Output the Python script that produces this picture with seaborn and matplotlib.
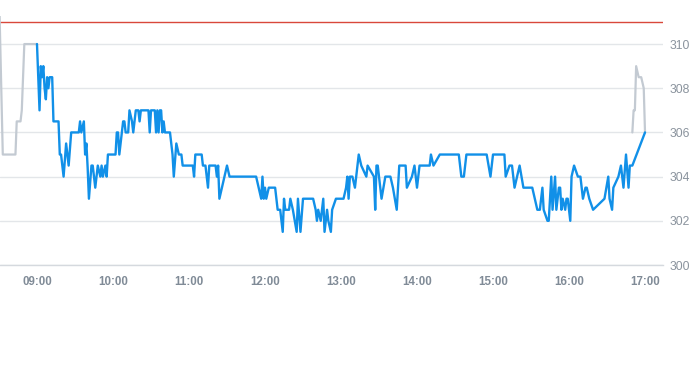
import matplotlib
matplotlib.use("Agg")
import matplotlib.pyplot as plt
import matplotlib.dates as mdates
import seaborn as sns
import pandas as pd

DAY = "2024-01-02 "

blue_times = ["09:00", "09:02", "09:03", "09:04", "09:05", "09:06", "09:07", "09:08", "09:09", "09:10",
              "09:12", "09:13", "09:17", "09:18", "09:19", "09:21", "09:23", "09:25", "09:27", "09:33",
              "09:34", "09:35", "09:37", "09:38", "09:39", "09:40", "09:41", "09:43", "09:44", "09:46",
              "09:48", "09:50", "09:51", "09:52", "09:54", "09:55", "09:56", "10:02", "10:03", "10:04",
              "10:05", "10:08", "10:09", "10:10", "10:12", "10:13", "10:15", "10:16", "10:18", "10:20",
              "10:21", "10:22", "10:28", "10:29", "10:30", "10:33", "10:34", "10:35", "10:36", "10:37",
              "10:38", "10:39", "10:40", "10:41", "10:45", "10:47", "10:48", "10:50", "10:52", "10:54",
              "10:55", "11:03", "11:04", "11:05", "11:10", "11:11", "11:13", "11:15", "11:16", "11:21",
              "11:22", "11:23", "11:24", "11:30", "11:32", "11:53", "11:57", "11:58", "11:59", "12:00",
              "12:01", "12:03", "12:08", "12:10", "12:12", "12:14", "12:15", "12:16", "12:19", "12:20",
              "12:22", "12:25", "12:26", "12:28", "12:30", "12:38", "12:40", "12:41", "12:42", "12:44",
              "12:46", "12:47", "12:49", "12:50", "12:52", "12:53", "12:56", "13:02", "13:04", "13:05",
              "13:06", "13:07", "13:09", "13:11", "13:14", "13:16", "13:20", "13:21", "13:24", "13:26",
              "13:27", "13:28", "13:29", "13:32", "13:35", "13:39", "13:41", "13:44", "13:46", "13:51",
              "13:52", "13:56", "13:58", "14:00", "14:02", "14:10", "14:11", "14:13", "14:18", "14:33",
              "14:35", "14:37", "14:39", "14:55", "14:58", "15:00", "15:09", "15:10", "15:13", "15:15",
              "15:17", "15:21", "15:24", "15:31", "15:33", "15:35", "15:37", "15:39", "15:40", "15:43",
              "15:44", "15:46", "15:47", "15:49", "15:50", "15:52", "15:53", "15:54", "15:55", "15:57",
              "15:58", "15:59", "16:01", "16:02", "16:04", "16:07", "16:09", "16:10", "16:11", "16:13",
              "16:14", "16:16", "16:19", "16:28", "16:31", "16:32", "16:34", "16:35", "16:39", "16:41",
              "16:43", "16:45", "16:47", "16:48", "16:50", "17:00"]
blue_values = [310, 307, 309, 308.5, 309, 308, 307.5, 308.5, 308, 308.5,
               308.5, 306.5, 306.5, 305, 305, 304, 305.5, 304.5, 306, 306,
               306.5, 306, 306.5, 305, 305.5, 304.4, 303, 304.5, 304.5, 303.5,
               304.5, 304, 304.5, 304, 304.5, 304, 305, 305, 306, 306,
               305, 306.5, 306.5, 306, 306, 307, 306.5, 306, 307, 307,
               306.5, 307, 307, 306, 307, 307, 306, 307, 306, 307,
               307, 306, 306.5, 306, 306, 305, 304, 305.5, 305, 305,
               304.5, 304.5, 304, 305, 305, 304.5, 304.5, 303.5, 304.5, 304.5,
               304, 304.5, 303, 304.5, 304, 304, 303, 304, 303, 303.5,
               303, 303.5, 303.5, 302.5, 302.5, 301.5, 303, 302.5, 302.5, 303,
               302.5, 301.5, 303, 301.5, 303, 303, 302.5, 302, 302.5, 302,
               303, 301.5, 302.5, 302, 301.5, 302.5, 303, 303, 303.5, 304,
               303, 304, 304, 303.5, 305, 304.5, 304, 304.5, 304.2, 304,
               302.5, 304.5, 304.5, 303, 304, 304, 303.5, 302.5, 304.5, 304.5,
               303.5, 304, 304.5, 303.5, 304.5, 304.5, 305, 304.5, 305, 305,
               304, 304, 305, 305, 304, 305, 305, 304, 304.5, 304.5,
               303.5, 304.5, 303.5, 303.5, 303, 302.5, 302.5, 303.5, 302.5, 302,
               302, 304, 302.5, 304, 302.5, 303.5, 303.5, 302.5, 303, 302.5,
               303, 303, 302, 304, 304.5, 304, 304, 303.5, 303, 303.5,
               303.5, 303, 302.5, 303, 304, 303, 302.5, 303.5, 304, 304.5,
               303.5, 305, 303.5, 304.5, 304.5, 306]

pre_times = ["08:30", "08:33", "08:43", "08:44", "08:47", "08:48", "08:50", "09:00"]
pre_values = [312.5, 305, 305, 306.5, 306.5, 307, 310, 310]

post_times = ["16:50", "16:51", "16:52", "16:53", "16:55", "16:57", "16:59", "17:00"]
post_values = [306, 307, 307, 309, 308.5, 308.5, 308, 306]

ref_level = 311
y_ticks = [300, 302, 304, 306, 308, 310]
x_tick_labels = ["09:00", "10:00", "11:00", "12:00", "13:00", "14:00", "15:00", "16:00", "17:00"]

def frame(times, values, name):
    return pd.DataFrame({"time": pd.to_datetime([DAY + t for t in times]),
                         "price": values, "seg": name})

df_blue = frame(blue_times, blue_values, "main")
df_pre = frame(pre_times, pre_values, "pre")
df_post = frame(post_times, post_values, "post")

sns.set_style("white")
plt.rcParams["font.family"] = ["Liberation Sans", "DejaVu Sans"]

fig = plt.figure(figsize=(6.93, 3.65), dpi=100)
ax = fig.add_axes([0, 100 / 365, 663 / 693, (265 - 16) / 365])

grey = "#c3cad2"
sns.lineplot(data=df_pre, x="time", y="price", ax=ax, color=grey, lw=1.6,
             estimator=None, sort=False)
sns.lineplot(data=df_post, x="time", y="price", ax=ax, color=grey, lw=1.6,
             estimator=None, sort=False)
sns.lineplot(data=df_blue, x="time", y="price", ax=ax, color="#1190e8", lw=1.7,
             estimator=None, sort=False)
ax.axhline(ref_level, color="#d9483b", lw=1.0, zorder=1)

ax.set_xlim(pd.Timestamp(DAY + "08:30:48"), pd.Timestamp(DAY + "17:14:12"))
ax.set_ylim(300, 311.27)

ax.set_yticks(y_ticks)
ax.set_yticklabels([str(v) for v in y_ticks])
ax.yaxis.tick_right()
ax.grid(axis="y", color="#e3e6e9", lw=1.0)
ax.grid(axis="x", visible=False)
ax.set_axisbelow(True)

xt = pd.to_datetime([DAY + t for t in x_tick_labels])
ax.set_xticks(xt)
ax.set_xticklabels(x_tick_labels)

for s in ["top", "left", "right"]:
    ax.spines[s].set_visible(False)
ax.spines["bottom"].set_color("#d5d9de")
ax.spines["bottom"].set_linewidth(1.0)

ax.tick_params(axis="x", length=5, width=1, color="#d5d9de", pad=3,
               labelsize=8.3, labelcolor="#808b97")
for lab in ax.get_xticklabels():
    lab.set_fontweight("bold")
ax.tick_params(axis="y", length=0, pad=5, labelsize=8.7, labelcolor="#8a939d",
               right=False, labelright=True)
ax.set_xlabel("")
ax.set_ylabel("")

fig.savefig("out.png", dpi=100)
